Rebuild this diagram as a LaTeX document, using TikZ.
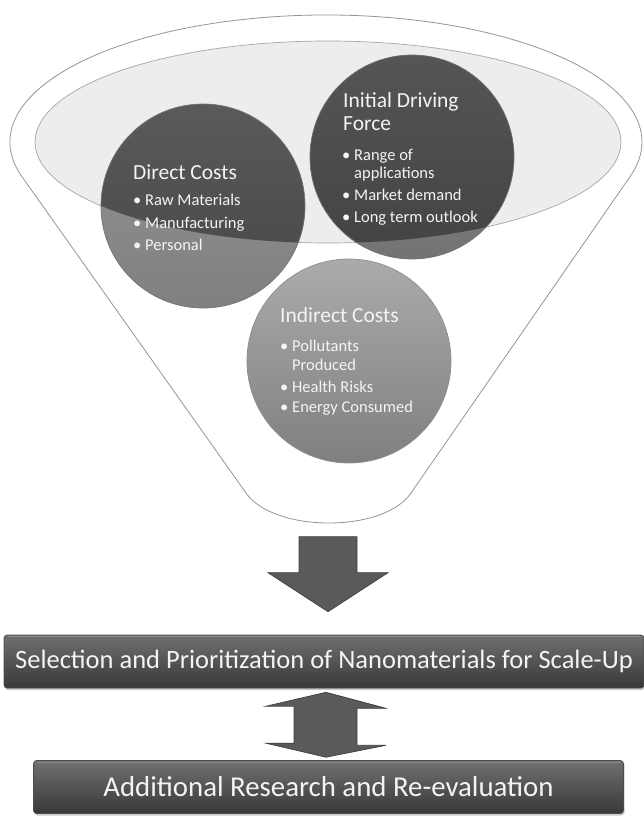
\documentclass[tikz,border=0pt]{standalone}
\usepackage{fontspec}
\setmainfont{Carlito}
\usetikzlibrary{calc,shadows}
\definecolor{txt}{HTML}{F4F4F4}
\definecolor{rimline}{HTML}{959595}
\definecolor{rimfill}{HTML}{EDEDED}
\definecolor{darkA}{HTML}{5A5A5A}
\definecolor{darkB}{HTML}{464646}
\definecolor{lightA}{HTML}{949494}
\definecolor{lightB}{HTML}{808080}
\definecolor{arrowfill}{HTML}{5A5A5A}
\newcommand\bul{\makebox[12pt][l]{\textbullet}}
\newcommand\ind{\makebox[12pt][l]{}}
\begin{document}
\begin{tikzpicture}[x=1pt,y=-1pt,
  funnelline/.style={draw=rimline, line width=0.8pt},
  ttl/.style={anchor=base west, inner sep=0pt, text=txt, font=\fontsize{21.5}{23}\selectfont},
  itm/.style={anchor=base west, inner sep=0pt, text=txt, font=\fontsize{16.5}{18}\selectfont},
  circrim/.style={draw=black!55, line width=0.7pt},
  blockarrow/.style={fill=arrowfill, draw=black!75, line width=0.7pt, line join=miter},
  stepbox/.style={rectangle, rounded corners=3pt, draw=black!70, line width=0.6pt,
    top color=black!56, bottom color=black!78, text=txt, inner sep=0pt,
    drop shadow={shadow xshift=1pt, shadow yshift=-2pt, opacity=0.35, fill=black!60}}
]
\useasboundingbox (0,0) rectangle (644,816);

% funnel outline: top ellipse rim with straight sides and a rounded bottom
\coordinate (fc) at (326,142);
\draw[funnelline, fill=white]
  ($(fc)+(164:316 and 127)$) arc[start angle=164, end angle=375.6, x radius=316, y radius=127]
  -- (411,493) .. controls (384,533) and (274,533) .. (246,493) -- cycle;

% inner opening of the funnel
\coordinate (ic) at (328,142);
\draw[draw=black!35, fill=rimfill, line width=0.7pt] (ic) ellipse [x radius=293, y radius=101];

% circles: light lower parts, darker where inside the opening
\coordinate (dc) at (203,206);
\coordinate (df) at (412,157);
\coordinate (ix) at (349,361);

\shade[top color=lightA, bottom color=lightB] (dc) circle (102);
\shade[top color=lightA!93!black, bottom color=lightB!90!black] (df) circle (102);
\begin{scope}
  \clip (ic) ellipse [x radius=293, y radius=101];
  \shade[top color=darkA, bottom color=darkB] (dc) circle (102);
  \shade[top color=darkA!95!black, bottom color=darkB!95!black] (df) circle (102);
\end{scope}
\shade[top color=black!33, bottom color=black!50] (ix) circle (102);
\draw[circrim] (dc) circle (102);
\draw[circrim] (df) circle (102);
\draw[circrim, draw=black!45] (ix) circle (102);

% Direct Costs
\node[ttl] (dct) at (133,179) {Direct Costs};
\node[itm] (dc1) at (133,205) {\bul Raw Materials};
\node[itm] (dc2) at (133,228) {\bul Manufacturing};
\node[itm] (dc3) at (133,250) {\bul Personal};

% Initial Driving Force
\node[ttl] (dft1) at (343,107) {Initial Driving};
\node[ttl] (dft2) at (343,130) {Force};
\node[itm] (df1) at (342,160) {\bul Range of};
\node[itm] (df2) at (342,178) {\ind applications};
\node[itm] (df3) at (342,200) {\bul Market demand};
\node[itm] (df4) at (342,222) {\bul Long term outlook};

% Indirect Costs
\node[ttl] (ixt) at (280,322) {Indirect Costs};
\node[itm] (ix1) at (280,351) {\bul Pollutants};
\node[itm] (ix2) at (280,370) {\ind Produced};
\node[itm] (ix3) at (280,392) {\bul Health Risks};
\node[itm] (ix4) at (280,412) {\bul Energy Consumed};

% result boxes
\node[stepbox, minimum width=640, minimum height=53, font=\fontsize{26.5}{28}\selectfont] (sel) at (324,661.5)
  {Selection and Prioritization of Nanomaterials for Scale-Up};
\node[stepbox, minimum width=590, minimum height=53, font=\fontsize{28.8}{30}\selectfont] (res) at (328.5,787)
  {Additional Research and Re-evaluation};

% down arrow from the funnel to the selection box
\coordinate (dtip) at ($(sel.north)+(4,-23)$);
\draw[blockarrow] (dtip) -- ++(60,-39) -- ++(-31,0) -- ++(0,-36) -- ++(-58,0)
  -- ++(0,36) -- ++(-31,0) -- cycle;

% two-way arrow between the boxes
\coordinate (utip) at ($(sel.south)+(2,4)$);
\coordinate (btip) at ($(res.north)+(-2.5,-3)$);
\draw[blockarrow] (utip) -- ++(60,16) -- ++(-29,0) -- ++(0,37) -- ++(29,0)
  -- (btip) -- ++(-60,-14) -- ++(28,0) -- ++(0,-37) -- ++(-28,0) -- cycle;

% highlight along the top edges of the boxes
\draw[white!55!black, line width=1.2pt] ($(sel.north west)+(4,2)$) -- ($(sel.north east)+(-4,2)$);
\draw[white!55!black, line width=1.2pt] ($(res.north west)+(4,2)$) -- ($(res.north east)+(-4,2)$);
\end{tikzpicture}
\end{document}
